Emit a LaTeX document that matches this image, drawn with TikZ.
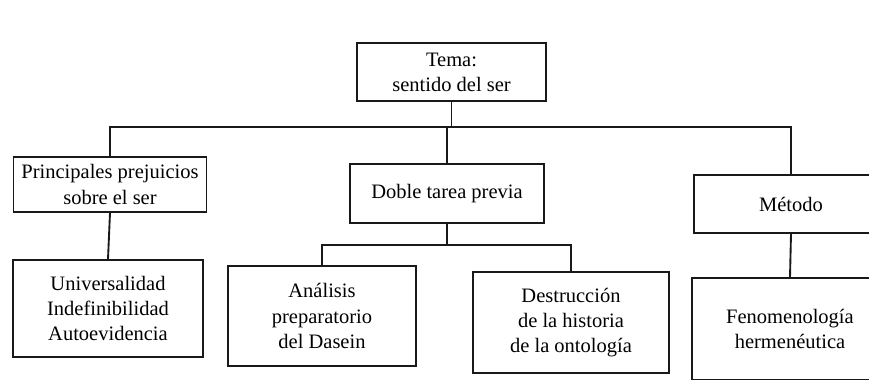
\documentclass[tikz,border=0pt]{standalone}
\usepackage{fontspec}
\setmainfont{Liberation Serif}
\begin{document}
\begin{tikzpicture}[x=0.03cm,y=-0.03cm,
  box/.style={draw=black!90,line width=1.6pt,fill=white,align=center,inner sep=0pt,
    font=\fontsize{17.5}{21.5}\selectfont},
  link/.style={draw=black!90,line width=1.6pt}]
\useasboundingbox (0,0) rectangle (869,379);
\clip (0,0) rectangle (869,379);
\fill[white] (0,0) rectangle (869,379);
% nodes
\node[box,minimum width=189*0.03cm,minimum height=58*0.03cm] (tema) at (451.5,72) {Tema:\\sentido del ser};
\node[box,minimum width=193*0.03cm,minimum height=55*0.03cm] (prin) at (110,184.5) {Principales prejuicios\\sobre el ser};
\node[box,minimum width=194*0.03cm,minimum height=59*0.03cm] (doble) at (447,193.5) {Doble tarea previa};
\node[box,minimum width=194*0.03cm,minimum height=58*0.03cm] (metodo) at (791,204) {M\'etodo};
\node[box,minimum width=190*0.03cm,minimum height=97*0.03cm] (univ) at (108,308.5) {Universalidad\\Indefinibilidad\\Autoevidencia};
\node[box,minimum width=188*0.03cm,minimum height=100*0.03cm] (anal) at (322,316) {An\'alisis\\preparatorio\\del Dasein};
\node[box,minimum width=196*0.03cm,minimum height=101*0.03cm] (dest) at (571,322.5) {Destrucci\'on\\de la historia\\de la ontolog\'ia};
\node[box,minimum width=196*0.03cm,minimum height=102*0.03cm] (fenom) at (790,329) {Fenomenolog\'ia\\herme\-n\'eutica};
% connectors
\coordinate (h1) at (451.5,127);
\coordinate (h2) at (447,245);
\draw[link] (tema.south) -- (h1);
\draw[link] (prin.north) |- (h1) -| (metodo.north);
\draw[link] (doble.north) -- (doble.north |- h1);
\draw[link] (prin.south) -- (univ.north);
\draw[link] (doble.south) -- (h2);
\draw[link] (anal.north) |- (h2) -| (dest.north);
\draw[link] (metodo.south) -- (fenom.north);
\end{tikzpicture}
\end{document}
